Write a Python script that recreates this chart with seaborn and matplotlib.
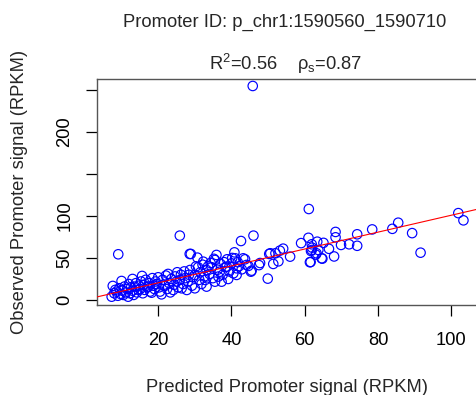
import numpy as np
import pandas as pd
import matplotlib
matplotlib.use("Agg")
import matplotlib.pyplot as plt
import seaborn as sns

# ---- data ----
predicted = [
    7.3, 7.6, 8.0, 8.3, 8.6, 9.0, 9.1, 9.4, 9.8, 10.0, 10.2, 10.5, 10.8, 11.2, 11.5, 11.8,
    12.0, 12.3, 12.6, 13.0, 13.0, 13.3, 13.6, 13.9, 14.2, 14.6, 14.8, 15.1, 15.3, 15.6, 15.8,
    16.0, 16.3, 16.6, 17.0, 17.3, 17.5, 17.8, 18.2, 18.4, 18.7, 19.0, 19.3, 19.6, 20.0, 20.2,
    20.5, 20.9, 21.2, 21.5, 21.8, 22.1, 22.4, 22.7, 23.0, 23.3, 23.6, 24.1, 24.3, 24.6, 25.0,
    25.2, 25.5,
    25.9, 25.9, 26.2, 26.4, 26.8, 27.1, 27.4, 27.8, 28.1, 28.4, 28.6, 28.7, 28.9, 29.2, 29.5,
    30.0, 30.0, 30.3, 30.7, 30.9, 31.2, 31.5, 31.8, 32.1, 32.3, 32.6, 32.8, 33.2, 33.2, 33.6,
    34.0, 34.3, 34.6, 34.9, 35.2,
    35.5, 35.5, 35.9, 36.2, 36.4, 36.8, 37.0, 37.3, 37.6, 38.0, 38.3, 38.7, 38.8, 39.1, 39.4,
    40.0, 40.2, 40.5, 40.8, 41.0, 41.4, 41.4, 41.7, 42.0, 42.6, 42.8, 43.2, 43.7, 44.1, 44.6,
    45.3, 45.5, 45.8, 46.0, 47.5, 47.8,
    49.9, 50.3, 50.6, 51.4, 52.0, 52.8, 53.2, 54.1, 56.0,
    59.0, 61.0, 61.1, 61.4, 61.6, 61.7, 61.9, 61.9, 62.0, 63.0, 63.2, 63.4, 63.7, 64.6, 64.8,
    65.1, 66.6, 68.0, 68.4, 68.4, 69.9,
    72.1, 74.3, 74.3, 78.4, 83.9, 85.5, 89.3, 91.6, 101.9, 103.3,
]
observed = [
    3.9, 16.7, 8.0, 12.0, 9.9, 5.0, 54.4, 14.0, 7.0, 22.6, 11.0, 6.0, 16.0, 9.0, 13.0, 3.9,
    19.0, 8.0, 15.0, 25.0, 11.0, 6.0, 15.9, 20.0, 9.0, 11.9, 17.0, 13.0, 22.0, 28.6, 8.0,
    18.0, 12.0, 24.0, 15.0, 15.9, 20.0, 10.0, 8.7, 26.0, 17.0, 13.0, 22.0, 19.0, 27.0, 15.0,
    10.0, 6.7, 24.0, 18.0, 16.7, 29.0, 13.0, 31.0, 20.0, 9.0, 25.0, 11.9, 18.0, 28.0, 22.0,
    33.0, 15.0,
    23.8, 76.6, 30.0, 13.9, 19.0, 34.0, 26.0, 11.9, 22.0, 30.0, 54.8, 35.7, 54.8, 17.0, 27.0,
    13.9, 29.8, 40.0, 50.4, 38.9, 24.0, 33.0, 19.0, 42.0, 45.6, 28.0, 23.8, 15.9, 35.7, 40.0,
    31.0, 44.0, 38.9, 26.0, 49.0,
    47.6, 21.8, 53.6, 36.0, 27.8, 33.7, 43.0, 21.8, 30.0, 45.0, 39.0, 39.7, 48.4, 25.0, 34.0,
    43.6, 50.0, 31.7, 56.7, 49.6, 37.7, 29.8, 45.0, 40.0, 70.2, 36.5, 49.6, 48.4, 41.7, 40.5,
    33.7, 34.9, 254.8, 76.6, 41.5, 44.0,
    25.4, 54.8, 55.6, 42.9, 55.6, 46.0, 58.7, 61.1, 51.6,
    67.7, 74.0, 108.3, 44.9, 45.2, 58.3, 66.3, 59.5, 62.3, 54.0, 55.6, 69.4, 59.5, 49.6, 49.2,
    68.0, 60.9, 51.8, 81.0, 74.6, 65.5,
    66.3, 78.2, 64.5, 84.0, 84.7, 92.0, 79.6, 56.3, 103.4, 94.8,
]
# fitted regression line as drawn in the reference
fit_intercept = 0.3
fit_slope = 1.006

x_ticks = [20, 40, 60, 80, 100]
x_ticklabels = ["20", "40", "60", "80", "100"]
y_ticks = [0, 50, 100, 150, 200, 250]
y_ticklabels = ["0", "50", "100", "", "200", ""]
title = "Promoter ID: p_chr1:1590560_1590710"
subtitle = r"R$^2$=0.56    $\rho_{\rm s}$=0.87"
xlabel = "Predicted Promoter signal (RPKM)"
ylabel = "Observed Promoter signal (RPKM)"

df = pd.DataFrame({"pred": predicted, "obs": observed})

sns.set_style("white")
plt.rcParams["font.family"] = ["Liberation Sans", "DejaVu Sans"]
plt.rcParams["mathtext.fontset"] = "custom"
plt.rcParams["mathtext.rm"] = "Liberation Sans"
plt.rcParams["mathtext.it"] = "Liberation Sans"
plt.rcParams["mathtext.bf"] = "Liberation Sans:bold"

FS = 13.2
W, H = 476, 395
fig = plt.figure(figsize=(W / 100, H / 100), dpi=100)
ax = fig.add_axes([97 / W, (H - 304.5) / H, 380 / W, (304.5 - 79) / H])

sns.scatterplot(data=df, x="pred", y="obs", ax=ax, marker="o", s=46,
                facecolor="none", edgecolor="blue", linewidth=0.85, zorder=2)
ax.axline((0, fit_intercept), slope=fit_slope, color="red", linewidth=0.8, zorder=3)

ax.set_xlim(3.3, 107.0)
ax.set_ylim(-5.4, 263.1)
ax.set_xticks(x_ticks)
ax.set_xticklabels(x_ticklabels)
ax.set_yticks(y_ticks)
ax.set_yticklabels(y_ticklabels, rotation=90, va="center")
ax.tick_params(axis="both", direction="out", length=8, width=0.9, color="black",
               labelsize=FS, labelcolor="black", bottom=True, left=True)
ax.tick_params(axis="x", pad=12)
ax.tick_params(axis="y", pad=9)
for sp in ax.spines.values():
    sp.set_color("#555555")
    sp.set_linewidth(1.0)
ax.set_xlabel("")
ax.set_ylabel("")

fig.text(285 / W, 1 - 27 / H, title, ha="center", va="baseline", fontsize=FS)
fig.text(286 / W, 1 - 70 / H, subtitle, ha="center", va="baseline", fontsize=FS)
fig.text(287 / W, 1 - 392 / H, xlabel, ha="center", va="baseline", fontsize=FS)
fig.text(20 / W, 1 - 191.5 / H, ylabel, ha="center", va="center", rotation=90, fontsize=FS)

fig.savefig("out.png", dpi=100)
